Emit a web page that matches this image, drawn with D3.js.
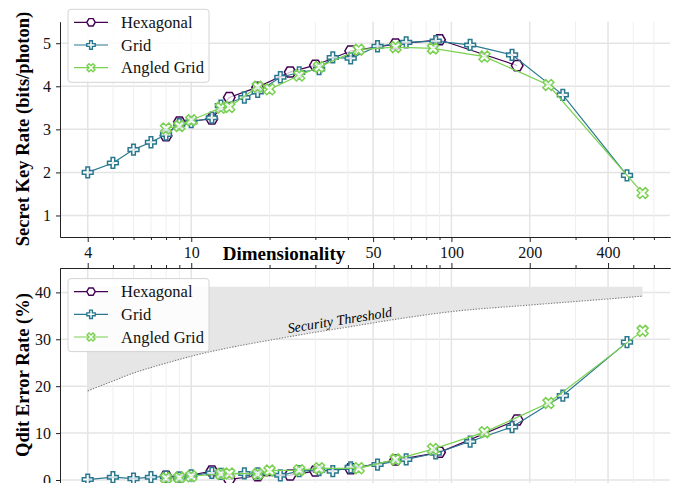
<!DOCTYPE html>
<html>
<head>
<meta charset="utf-8">
<script src="https://cdnjs.cloudflare.com/ajax/libs/d3/7.8.5/d3.min.js"></script>
<style>
  body { margin: 0; background: #fff; }
  svg { font-family: "Liberation Serif", "Times New Roman", serif; }
</style>
</head>
<body>
<div id="chart"></div>
<script>
// values
const hexDims   = [8, 9, 12, 14, 18, 24, 30, 41, 61, 90, 179];
const hexRate   = [2.85, 3.17, 3.24, 3.74, 3.98, 4.33, 4.49, 4.82, 4.98, 5.08, 4.48];
const hexError  = [0.8, 0.55, 1.9, 0.15, 0.9, 1.06, 1.9, 2.4, 4.26, 5.9, 12.8];

const gridDims  = [4, 5, 6, 7, 8, 9, 10, 12, 13, 16, 18, 22, 26, 31, 35, 41, 52, 67, 87, 118, 171, 268, 473];
const gridRate  = [2.00, 2.22, 2.53, 2.70, 2.88, 3.12, 3.17, 3.27, 3.55, 3.74, 3.87, 4.21, 4.32, 4.40, 4.67, 4.65, 4.93, 5.02, 5.05, 4.96, 4.73, 3.80, 1.93];
const gridError = [0.1, 0.6, 0.3, 0.6, 0.7, 0.5, 1.0, 1.5, 1.3, 1.4, 1.4, 1.0, 1.9, 2.1, 1.9, 2.7, 3.3, 4.4, 5.7, 8.2, 11.3, 18.0, 29.4];

const angledDims  = [8, 9, 10, 13, 14, 18, 20, 26, 31, 44, 61, 85, 134, 236, 543];
const angledRate  = [3.02, 3.08, 3.21, 3.50, 3.52, 3.99, 3.93, 4.25, 4.45, 4.85, 4.91, 4.88, 4.69, 4.03, 1.52];
const angledError = [0.4, 0.5, 0.8, 1.3, 1.4, 1.3, 2.0, 2.1, 2.5, 2.5, 4.4, 6.6, 10.2, 16.4, 31.8];

const threshDims = [4, 5, 6, 8, 10, 14, 20, 30, 40, 60, 100, 200, 400, 543];
const threshVals = [19.0, 21.1, 22.8, 24.9, 26.4, 28.2, 29.8, 31.5, 32.6, 34.2, 35.9, 37.3, 38.6, 39.2];
const threshTop = 41.2;

const xTicks = [4, 10, 50, 100, 200, 400];
const xMinor = [5, 6, 7, 8, 9, 20, 30, 40, 60, 70, 80, 90, 300, 500, 600];
const rateTicks = [1, 2, 3, 4, 5];
const errorTicks = [0, 10, 20, 30, 40];

const series = [
  {name: 'Hexagonal',   color: '#440154', marker: 'hex',   dims: hexDims,    rate: hexRate,    err: hexError},
  {name: 'Grid',        color: '#2a788e', marker: 'plus',  dims: gridDims,   rate: gridRate,   err: gridError},
  {name: 'Angled Grid', color: '#7ad151', marker: 'cross', dims: angledDims, rate: angledRate, err: angledError}
];

const width = 678, height = 483;
const left = 60, right = 670;

const svg = d3.select('#chart')
  .append('svg')
  .attr('width', width)
  .attr('height', height);

const x = d3.scaleLog().domain([3.13, 692]).range([left, right]);
const yRate = d3.scaleLinear().domain([0.5, 5.5]).range([237, 21.7]);
const yErr = d3.scaleLinear().domain([-1, 45.2]).range([484.7, 268]);

// marker shapes
function markerPath(type, r) {
  let pts;
  if (type === 'hex') {
    pts = d3.range(6).map(i => [r * Math.cos(i * Math.PI / 3), r * Math.sin(i * Math.PI / 3)]);
  } else {
    const a = r / 3;
    pts = [[-a, -r], [a, -r], [a, -a], [r, -a], [r, a], [a, a], [a, r], [-a, r], [-a, a], [-r, a], [-r, -a], [-a, -a]];
    if (type === 'cross') {
      const c = Math.SQRT1_2;
      pts = pts.map(p => [(p[0] - p[1]) * c, (p[0] + p[1]) * c]);
    }
  }
  return 'M' + pts.map(p => p.join(',')).join('L') + 'Z';
}

function panel(y, yTicks, top, bottom) {
  const g = svg.append('g');

  // grid
  g.selectAll('.hgrid').data(yTicks).enter().append('line')
    .attr('x1', left).attr('x2', right)
    .attr('y1', d => y(d)).attr('y2', d => y(d))
    .style('stroke', '#e4e4e4').style('stroke-width', 1.5);
  g.selectAll('.vminor').data(xMinor).enter().append('line')
    .attr('x1', d => x(d)).attr('x2', d => x(d))
    .attr('y1', top).attr('y2', bottom)
    .style('stroke', '#efefef').style('stroke-width', 1);
  g.selectAll('.vmajor').data(xTicks).enter().append('line')
    .attr('x1', d => x(d)).attr('x2', d => x(d))
    .attr('y1', top).attr('y2', bottom)
    .style('stroke', '#e4e4e4').style('stroke-width', 1.5);

  return g;
}

const gTop = panel(yRate, rateTicks, 21.7, 237);
const gBot = panel(yErr, errorTicks, 268, 483);

// security threshold band
const band = threshDims.map((d, i) => ({d: d, v: threshVals[i]}));
gBot.append('path')
  .datum(band)
  .attr('d', d3.area().x(d => x(d.d)).y0(d => yErr(d.v)).y1(yErr(threshTop)).curve(d3.curveMonotoneX))
  .style('fill', '#e6e6e6');
gBot.append('path')
  .datum(band)
  .attr('d', d3.line().x(d => x(d.d)).y(d => yErr(d.v)).curve(d3.curveMonotoneX))
  .style('fill', 'none').style('stroke', '#808080')
  .style('stroke-width', 1.1).style('stroke-dasharray', '1.4,1.4');
gBot.append('text')
  .attr('transform', `translate(${x(37.5)},${yErr(33.1)}) rotate(-9)`)
  .attr('text-anchor', 'middle')
  .style('font-size', '14px').style('font-style', 'italic')
  .text('Security Threshold');

// series
function drawSeries(g, y, key) {
  series.forEach(s => {
    const pts = s.dims.map((d, i) => ({d: d, v: s[key][i]}));
    g.append('path')
      .datum(pts)
      .attr('d', d3.line().x(d => x(d.d)).y(d => y(d.v)))
      .style('fill', 'none').style('stroke', s.color).style('stroke-width', 1.2);
    g.selectAll(null).data(pts).enter().append('path')
      .attr('d', markerPath(s.marker, s.marker === 'plus' ? 5.4 : 5.8))
      .attr('transform', d => `translate(${x(d.d)},${y(d.v)})`)
      .style('fill', '#fff').style('fill-opacity', 0.75)
      .style('stroke', s.color).style('stroke-width', 1.5);
  });
}
drawSeries(gTop, yRate, 'rate');
drawSeries(gBot, yErr, 'err');

// axes
function styleAxis(sel) {
  sel.selectAll('path').style('stroke', '#222');
  sel.selectAll('line').style('stroke', '#222');
  sel.selectAll('text').style('font-size', '16px').style('fill', '#111')
    .style('font-family', '"Liberation Serif", serif');
}

svg.append('g').attr('transform', 'translate(0,237)')
  .call(d3.axisBottom(x).tickValues(xMinor).tickFormat('').tickSize(3).tickSizeOuter(0))
  .call(styleAxis);
svg.append('g').attr('transform', 'translate(0,237)')
  .call(d3.axisBottom(x).tickValues(xTicks).tickFormat(d3.format('d')).tickSize(5).tickSizeOuter(0).tickPadding(5))
  .call(styleAxis);

svg.append('g').attr('transform', 'translate(0,268)')
  .call(d3.axisTop(x).tickValues(xMinor).tickFormat('').tickSize(3).tickSizeOuter(0))
  .call(styleAxis);
svg.append('g').attr('transform', 'translate(0,268)')
  .call(d3.axisTop(x).tickValues(xTicks).tickFormat('').tickSize(5).tickSizeOuter(0))
  .call(styleAxis);

svg.append('g').attr('transform', `translate(${left},0)`)
  .call(d3.axisLeft(yRate).tickValues(rateTicks).tickFormat(d3.format('d')).tickSize(4).tickSizeOuter(0).tickPadding(5))
  .call(styleAxis);
svg.append('g').attr('transform', `translate(${left},0)`)
  .call(d3.axisLeft(yErr).tickValues(errorTicks).tickFormat(d3.format('d')).tickSize(4).tickSizeOuter(0).tickPadding(5))
  .call(styleAxis);

// axis titles
svg.append('text')
  .attr('x', 284).attr('y', 260)
  .attr('text-anchor', 'middle')
  .style('font-size', '19px').style('font-weight', 'bold')
  .text('Dimensionality');
svg.append('text')
  .attr('transform', 'translate(22,129) rotate(-90)')
  .attr('text-anchor', 'middle').attr('dy', '0.35em')
  .style('font-size', '18.6px').style('font-weight', 'bold')
  .text('Secret Key Rate (bits/photon)');
svg.append('text')
  .attr('transform', 'translate(22,375) rotate(-90)')
  .attr('text-anchor', 'middle').attr('dy', '0.35em')
  .style('font-size', '18.6px').style('font-weight', 'bold')
  .text('Qdit Error Rate (%)');

// legends
function legend(top) {
  const g = svg.append('g').attr('transform', `translate(68,${top})`);
  g.append('rect')
    .attr('width', 141).attr('height', 73).attr('rx', 3)
    .style('fill', '#fff').style('fill-opacity', 0.85)
    .style('stroke', '#d4d4d4').style('stroke-width', 1);
  series.forEach((s, i) => {
    const cy = 13 + i * 22.7;
    g.append('line').attr('x1', 6).attr('x2', 40).attr('y1', cy).attr('y2', cy)
      .style('stroke', s.color).style('stroke-width', 1.2);
    g.append('path').attr('d', markerPath(s.marker, 4.2))
      .attr('transform', `translate(23,${cy})`)
      .style('fill', '#fff').style('stroke', s.color).style('stroke-width', 1.4);
    g.append('text').attr('x', 53).attr('y', cy).attr('dy', '0.35em')
      .style('font-size', '16.5px').style('fill', '#111')
      .text(s.name);
  });
}
legend(9.3);
legend(278.6);
</script>
</body>
</html>
